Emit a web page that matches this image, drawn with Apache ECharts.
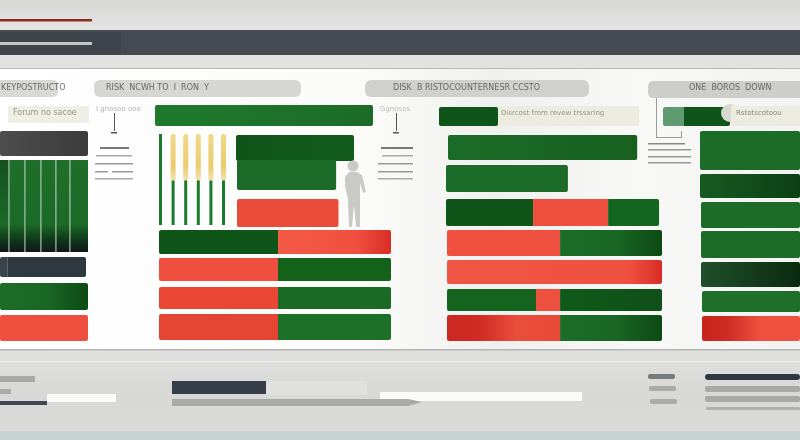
<!DOCTYPE html>
<html><head><meta charset="utf-8">
<style>html,body{margin:0;padding:0;background:#f6f6f5}#c{width:800px;height:440px}</style>
<script src="https://cdn.jsdelivr.net/npm/echarts@6/dist/echarts.min.js"></script>
</head><body><div id="c"></div>
<script>
// ---------- values (percent of each panel's width) ----------
const leftDark = [100];
const leftStripes = [10, 18, 18, 17, 16, 21];
const leftSlate = [9, 91];
const leftGreen = [100];
const leftRed = [100];

const midHeader = [100];
const midDark = [100];
const midGreen = [84];
const midRed = [86];
const midRow1 = [51.3, 48.7];
const midRow2 = [51.3, 48.7];
const midRow3 = [51.3, 48.7];
const midRow4 = [51.3, 48.7];

const stemCategories = ['a', 'b', 'c', 'd', 'e', 'f'];
const stemGreen = [100, 49, 49, 49, 49, 49];
const stemYellow = [0, 100, 100, 100, 100, 100];

const rightLegend = [29.5];
const rightRow1 = [88];
const rightRow2 = [56.7];
const rightRow3 = [40.5, 34.9, 23.7];
const rightRow4 = [52.6, 47.4];
const rightRow5 = [100];
const rightRow6 = [41.4, 11.2, 47.4];
const rightRow7 = [52.6, 47.4];

const farLegend = [31, 69];
const farRow1 = [100];
const farRow2 = [100];
const farRow3 = [100];
const farRow4 = [100];
const farRow5 = [100];
const farRow6 = [100];
const farRow7 = [100];

// ---------- text ----------
const headerLabels = ['KEYPOSTRUCTO', 'RISK  NCWH TO  I  RON  Y', 'DISK  B RISTOCOUNTERNESR CCSTO', 'ONE  BOROS  DOWN'];
const subLabels = ['Forum no sacoe', 'Disrcost from revew trssaring', 'Rstotscotoou'];
const noteLabels = ['I gnosoo ooe', 'Ggnosos'];

// ---------- styles ----------
const h = (a, b) => ({type:'linear',x:0,y:0,x2:1,y2:0,colorStops:[{offset:0,color:a},{offset:1,color:b}]});
const v = (stops) => ({type:'linear',x:0,y:0,x2:0,y2:1,colorStops:stops.map(s=>({offset:s[0],color:s[1]}))});
const hs = (stops) => ({type:'linear',x:0,y:0,x2:1,y2:0,colorStops:stops.map(s=>({offset:s[0],color:s[1]}))});
const G='#1d6b28', D='#0f5519', R='#ee4f3e';
const stripe = v([[0,'#1f6f2a'],[0.7,'#1c6a28'],[0.86,'#0f3a1a'],[1,'#10161a']]);
const stripeL = v([[0,'#14501f'],[0.7,'#1c6a28'],[0.86,'#0f3a1a'],[1,'#10161a']]);
const fadeGreen = hs([[0,'#1c6c27'],[0.55,'#1a6625'],[1,'#0c4a14']]);

// ---------- rows: values, left, width, top, height, colours ----------
const rows = [
 [leftDark, 0, 88, 131, 25, [h('#4d4d4d','#3b3b3b')]],
 [leftStripes, 0, 88, 160, 92, [stripeL,stripe,stripe,stripe,stripe,stripe], 'stripe'],
 [leftSlate, 0, 86, 257, 20, ['#39434b','#2d3840']],
 [leftGreen, 0, 88, 283, 27, [fadeGreen]],
 [leftRed, 0, 88, 315, 26, [R]],

 [midHeader, 155, 218, 105, 21, [h('#1f7a2c','#1c6b28')]],
 [midDark, 236, 118, 135, 26, [h('#0f5519','#135a1d')]],
 [midGreen, 237, 118, 160, 30, [G]],
 [midRed, 237, 118, 199, 28, ['#ea4c3b']],
 [midRow1, 159, 232, 230, 24, [D, hs([[0,'#f25a46'],[0.7,'#f0503f'],[1,'#d92c26']])]],
 [midRow2, 159, 232, 258, 23, [R, '#146119']],
 [midRow3, 159, 232, 287, 22, ['#ea4634', '#1a6a26']],
 [midRow4, 159, 232, 314, 26, ['#e54533', '#1c7028']],

 [rightLegend, 439, 200, 107, 19, [D]],
 [rightRow1, 448, 215, 135, 25, [h('#1d6b28','#17601f')]],
 [rightRow2, 446, 215, 165, 27, [G]],
 [rightRow3, 446, 215, 199, 27, [D, R, '#14651f']],
 [rightRow4, 447, 215, 230, 26, ['#f0503f', fadeGreen]],
 [rightRow5, 447, 215, 260, 24, [hs([[0,'#f05645'],[0.85,'#f0503f'],[1,'#d92c26']])]],
 [rightRow6, 447, 215, 289, 22, ['#14631e', '#ee5140', h('#0f5a19','#0f5018')]],
 [rightRow7, 447, 215, 315, 26, [hs([[0,'#cc2822'],[0.3,'#d02c24'],[0.6,'#e94d3c'],[1,'#e94b39']]), fadeGreen]],

 [farLegend, 663, 67, 107, 19, ['#5f9a70', D]],
 [farRow1, 700, 100, 131, 39, [G]],
 [farRow2, 700, 100, 174, 24, [hs([[0,'#175a22'],[1,'#0c4014']])]],
 [farRow3, 701, 99, 202, 26, [G]],
 [farRow4, 701, 99, 231, 27, [G]],
 [farRow5, 701, 99, 262, 25, [hs([[0,'#214f2a'],[1,'#0a2a10']])]],
 [farRow6, 702, 98, 291, 21, ['#1f6f2a']],
 [farRow7, 702, 98, 316, 25, [hs([[0,'#c8241e'],[0.25,'#cc2a22'],[0.6,'#ee5140'],[1,'#ee5140']])]]
];

const grid=[], xAxis=[], yAxis=[], series=[];
rows.forEach((r,i)=>{
  grid.push({left:r[1],top:r[3],width:r[2],height:r[4]});
  xAxis.push({type:'value',gridIndex:i,min:0,max:100,show:false});
  yAxis.push({type:'category',gridIndex:i,data:['row'],show:false});
  r[0].forEach((val,j)=>{
    const first=j===0,last=j===r[0].length-1;
    const itemStyle={color:r[5][j],borderRadius:[first?2:0,last?2:0,last?2:0,first?2:0]};
    if(r[6]==='stripe'){itemStyle.borderRadius=0;}
    series.push({type:'bar',xAxisIndex:i,yAxisIndex:i,stack:'s'+i,barWidth:'100%',data:[val],itemStyle,silent:true,z:3});
  });
});

// vertical stems: two overlapping grids sharing one horizontal span
const stemLeft=154.2, stemWidth=75.6;
const gi=grid.length;
grid.push({left:stemLeft,width:stemWidth,top:134,height:91});
xAxis.push({type:'category',gridIndex:gi,data:stemCategories,show:false});
yAxis.push({type:'value',gridIndex:gi,min:0,max:100,show:false});
series.push({type:'bar',xAxisIndex:gi,yAxisIndex:gi,barWidth:3,data:stemGreen,itemStyle:{color:'#1c7a2c'},silent:true,z:3});
grid.push({left:stemLeft,width:stemWidth,top:134,height:46});
xAxis.push({type:'category',gridIndex:gi+1,data:stemCategories,show:false});
yAxis.push({type:'value',gridIndex:gi+1,min:0,max:100,show:false});
series.push({type:'bar',xAxisIndex:gi+1,yAxisIndex:gi+1,barWidth:5,data:stemYellow,
  itemStyle:{color:v([[0,'#f0d98c'],[0.7,'#eccb6c'],[1,'#f2e2ae']]),borderRadius:[2,2,0,0]},silent:true,z:4});

// ---------- page chrome ----------
const rect=(x,y,w,height,fill,z,r)=>({type:'rect',shape:{x,y,width:w,height,r:r||0},style:{fill},z:z===undefined?-5:z,silent:true});
const txt=(x,y,text,size,fill,extra)=>({type:'text',x,y,style:Object.assign({text,fontSize:size,fontFamily:'DejaVu Sans',fill,verticalAlign:'middle',opacity:0.75},extra||{}),z:6,silent:true});
const graphic=[
 rect(0,0,800,30,v([[0,'#d8d8d6'],[1,'#e4e4e2']]),-9),
 rect(0,30,800,25,'#454a52',-8),
 rect(0,32,121,22,'#3f444c',-7),
 rect(0,19,92,2.5,'#8c2a22',-7),
 rect(0,42,92,3,'#c4c5c2',-7),
 rect(0,55,800,14,'#e2e2e0',-9),
 rect(0,68,800,1,'#b8b8b6',-7),
 rect(0,69,800,281,hs([[0,'#ffffff'],[0.45,'#fbfbfa'],[0.62,'#f0f0ef'],[0.8,'#f8f8f7'],[1,'#f3f3f2']]),-9),
 rect(0,349,800,1.5,'#b4b4b2',-7),
 rect(0,350,800,81,v([[0,'#e0e0de'],[0.5,'#d8d8d6'],[1,'#dadad8']]),-9),
 rect(0,361,800,1,'#f2f2f0',-7),
 rect(0,431,800,9,'#c6d3d0',-7),
 // header pills
 rect(-6,80,64,17,'#d8d8d4',-6,5), rect(94,80,207,17,'#d6d6d2',-6,6), rect(365,80,224,17,'#d0d0cc',-6,6), rect(648,81,160,17,'#cdcdc9',-6,5),
 txt(1,85,headerLabels[0],8,'#444',{y:0}),
 txt(106,85,headerLabels[1],8,'#444'),
 txt(393,85,headerLabels[2],8,'#444'),
 txt(689,85,headerLabels[3],8,'#444'),
 // sub label cards
 rect(8,106,81,17,'#efefe6',-6), txt(13,113,subLabels[0],8,'#777760'),
 rect(496,106,143,20,'#ecebdf',-6), txt(501,113,subLabels[1],7,'#777768'),
 {type:'circle',shape:{cx:730,cy:113,r:9},style:{fill:'#d9d8cf'},z:5,silent:true},
 rect(731,106,69,20,'#ecebdf',5), txt(736,113,subLabels[2],7,'#666658'),
 // callouts
 txt(96,109,noteLabels[0],7,'#999'), rect(114,113,1,18,'#555',-4), rect(111,132,6,1.5,'#555',-4),
 txt(380,109,noteLabels[1],7,'#aaa'), rect(396,113,1,18,'#555',-4), rect(393,132,6,1.5,'#555',-4),
 rect(656,98,1,40,'#9a9a98',-4), rect(656,137,25,1,'#9a9a98',-4), rect(681,131,1,7,'#9a9a98',-4),
 // mini lists
 rect(100,147,29,2,'#777',-4), rect(96,155,36,1.5,'#aaa',-4), rect(95,163,38,1.5,'#999',-4), rect(95,171,13,1.5,'#999',-4), rect(112,171,21,1.5,'#999',-4), rect(95,178,38,1.5,'#aaa',-4),
 rect(381,147,32,2,'#777',-4), rect(382,155,31,1.5,'#aaa',-4), rect(378,163,35,1.5,'#999',-4), rect(378,171,35,1.5,'#999',-4), rect(378,178,35,1.5,'#aaa',-4),
 rect(648,143,37,1.5,'#888',-4), rect(648,149,43,1.5,'#999',-4), rect(648,156,43,1.5,'#999',-4), rect(648,162,43,1.5,'#999',-4),
 // stripe dividers over the left block
 rect(8.5,160,1,92,'#a9c3a9',5), rect(24.5,160,1,92,'#a9c3a9',5), rect(40.5,160,1,92,'#a9c3a9',5), rect(55.5,160,1,92,'#a9c3a9',5), rect(69.5,160,1,92,'#a9c3a9',5),
 // person
 {type:'circle',shape:{cx:353,cy:166,r:5.5},style:{fill:'#c9c9c5'},z:6,silent:true},
 {type:'polygon',shape:{points:[[349,172],[357,172],[362,175],[366,192],[363,193],[360,183],[360,200],[360,227],[356,227],[354,205],[352,227],[349,227],[348,199],[345,186],[345,177]]},style:{fill:'#c9c9c5'},z:6,silent:true},
 // bottom controls
 rect(0,376,35,6,'#a8a8a6',-4), rect(0,389,11,5,'#aaaaa8',-4), rect(0,401,47,4,'#3f4850',-4), rect(47,394,69,8,'#fafafa',-4,1),
 rect(172,381,94,13,'#353e48',-4), rect(266,381,101,14,'#e0e0de',-4),
 {type:'polygon',shape:{points:[[172,399],[408,399],[422,402],[408,406],[172,406]]},style:{fill:'#a9a9a7'},z:-3,silent:true},
 rect(380,392,202,9,'#fbfbfa',-4,1),
 rect(648,374,27,5,'#777a7a',-4,2), rect(649,386,27,5,'#aaaaa8',-4,2), rect(650,399,27,5,'#aaaaa8',-4,2),
 rect(705,374,95,6,'#2f3840',-4,3), rect(705,386,95,6,'#a8a8a6',-4,2), rect(705,396,95,6,'#a8a8a6',-4,2), rect(706,407,94,3,'#b0b0ae',-4,1)
];
// header labels sit on the vertical middle of their pills
graphic.filter(e=>e.type==='text'&&headerLabels.includes(e.style.text)).forEach(e=>{e.y=88;});

const chart=echarts.init(document.getElementById('c'),null,{renderer:'canvas'});
chart.setOption({animation:false,backgroundColor:'#f6f6f5',grid,xAxis,yAxis,series,graphic:{elements:graphic},tooltip:{show:false},legend:{show:false}});
</script></body></html>
